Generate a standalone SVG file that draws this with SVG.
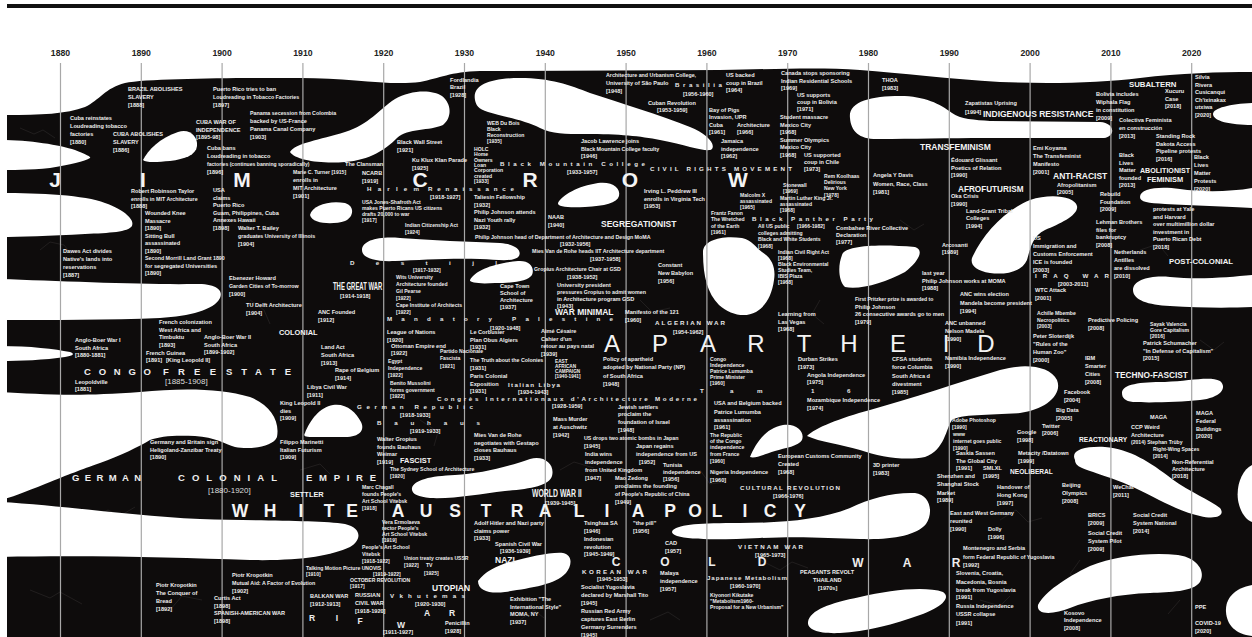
<svg xmlns="http://www.w3.org/2000/svg" width="1252" height="637" viewBox="0 0 1252 637">
<style>
text{font-family:"Liberation Sans",Arial,sans-serif}
.t{font-size:5.6px;font-weight:bold;fill:#eeeeee}
.ts{font-size:5.1px}
.n{font-size:5.3px}
.m{font-size:8.5px;font-weight:bold;fill:#f4f4f4}
.sp{font-size:6.2px;font-weight:bold;fill:#e8e8e8}
.yr{font-size:8.7px;font-weight:bold;fill:#222;text-anchor:middle}
.bg{font-size:21px;font-weight:bold;fill:#f4f4f4;text-anchor:middle}
.ap{font-size:24px;font-weight:normal;fill:#f4f4f4;text-anchor:middle}
.wa{font-size:17.5px;font-weight:bold;fill:#f4f4f4;text-anchor:middle}
.cw{font-size:12px;font-weight:bold;fill:#eeeeee;text-anchor:middle}
.rf{font-size:8.5px;font-weight:bold;fill:#eeeeee;text-anchor:middle}
.md{font-size:9.5px;font-weight:bold;fill:#eeeeee}
.dt{font-size:8px;fill:#dddddd}
.vl{stroke:#a8a8a8;stroke-width:1.2}
.hole{fill:#ffffff}
.crack{fill:none;stroke:#343030;stroke-width:0.5}
</style>
<rect width="1252" height="637" fill="#ffffff"/>
<rect x="7" y="4" width="1245" height="4" fill="#111"/>
<g id="land">
<path fill="#0e0c0c" d="M7,115 C40,115 67,114 85,107 C100,100 105,88 125,83 C150,78 250,78 300,78 C350,78 390,86 420,82 C440,78 450,72 480,71 L720,70 C780,69 820,67 860,70 C900,73 950,79 1000,82 C1050,84 1100,83 1140,78 C1180,73 1220,72 1252,72 L1252,637 L7,637 Z"/>
</g>
<g id="cracks">
<path class="crack" d="M20,128 l14,6 l9,-4 l12,8 M40,250 l10,-8 l14,3 l8,10 M90,520 l18,-10 l12,6 l15,-9 M30,590 l20,8 l10,-6 l22,12 M170,610 l12,-14 l20,4 M250,300 l14,10 l6,14 M300,470 l20,-6 l10,10 M420,420 l18,12 l-4,14 M560,470 l14,-8 l20,6 M640,300 l12,12 l18,-4 M700,470 l10,14 l16,-2 M760,560 l20,10 l12,-8 l16,6 M880,440 l10,-14 l18,2 M900,220 l14,10 l10,-6 M1000,520 l16,-10 l12,12 l14,-4 M1080,560 l-10,14 l14,10 M1140,250 l18,-6 l10,12 M1200,340 l14,10 l10,-8 M1180,600 l-12,14 M980,600 l20,6 l10,-10 M650,620 l18,-8 l12,8 M820,300 l-8,14 l12,10 M520,620 l14,-10 l10,8 M330,540 l16,8 l10,-6"/>
</g>
<g id="holes" class="hole">
<path d="M0,140 C30,140 60,145 75,150 C85,154 92,157 90,158 C85,161 70,165 50,168 C30,170 10,170 0,170 Z"/>
<path d="M0,193 C40,193 85,195 105,203 C125,210 135,220 132,226 C128,232 110,233 85,234 C50,236 20,237 0,237 Z"/>
<path d="M143,160 C148,150 160,138 178,132 C190,128 198,137 197,146 C196,155 185,159 170,161 C158,162 146,163 143,160 Z"/>
<path d="M290,152 C295,143 320,140 345,132 C370,124 378,110 395,99 C410,90 432,89 442,96 C452,104 452,118 443,125 C430,131 408,128 397,138 C385,150 370,160 345,162 C320,164 295,160 290,152 Z"/>
<path d="M475,100 C472,85 490,78 520,78 C550,78 570,85 590,93 C620,103 660,115 690,127 C705,133 716,143 712,149 C708,153 690,146 660,140 C640,136 620,134 585,134 C565,134 552,134 540,128 C525,120 500,116 488,112 C478,109 476,105 475,100 Z"/>
<path d="M558,203 C562,195 578,186 598,183 C612,181 621,188 619,196 C617,203 605,206 585,207 C570,208 557,207 558,203 Z"/>
<path d="M310,215 C312,205 330,200 345,203 C355,206 354,217 345,221 C333,225 312,224 310,215 Z"/>
<path d="M362,250 C362,240 380,236 400,238 C430,240 470,242 500,243 C515,244 522,250 519,256 C515,262 500,260 480,259 C450,258 420,260 395,261 C375,262 362,258 362,250 Z"/>
<path d="M470,280 C475,270 495,263 518,261 C530,260 535,268 532,275 C528,281 515,283 495,283 C480,284 469,283 470,280 Z"/>
<path d="M703,252 C703,240 722,235 742,238 C752,240 756,248 762,252 C772,258 776,268 774,280 C772,295 766,306 756,312 C745,318 730,315 719,305 C707,293 703,275 703,252 Z"/>
<path d="M850,118 C848,102 870,96 900,96 C925,96 940,104 952,113 C960,119 975,120 990,121 L1100,122 C1115,123 1116,136 1104,138 L985,138 C950,138 910,139 880,139 C860,140 851,132 850,118 Z"/>
<path d="M1252,103 C1230,104 1213,108 1213,114 C1213,121 1230,125 1252,125 Z"/>
<path d="M1140,197 C1140,188 1160,186 1180,189 C1200,192 1230,192 1252,188 L1252,208 C1230,207 1190,205 1165,204 C1148,203 1140,202 1140,197 Z"/>
<path d="M972,258 C982,235 1005,210 1030,200 C1050,193 1075,196 1077,206 C1079,215 1060,224 1045,230 C1032,236 1030,250 1027,260 C1022,272 1005,275 990,273 C976,271 970,265 972,258 Z"/>
<path d="M842,255 C845,245 880,244 915,247 C925,250 918,262 905,272 C885,283 860,290 845,287 C838,280 838,265 842,255 Z"/>
<path d="M750,457 C755,445 765,428 783,425 C797,423 805,432 802,440 C799,446 785,448 775,451 C765,454 755,459 750,457 Z"/>
<path d="M807,436 C815,428 840,418 870,410 C910,399 960,382 1000,370 C1025,363 1050,366 1057,380 C1063,395 1045,410 1020,413 C990,415 960,414 952,420 C946,428 945,450 925,457 C905,461 880,457 860,450 C840,444 820,442 807,436 Z"/>
<path d="M412,488 C414,480 430,476 455,475 C480,474 510,466 530,459 C545,455 555,465 552,476 C549,486 530,489 505,491 C480,494 455,499 430,498 C418,497 411,494 412,488 Z"/>
<path d="M478,581 C485,572 495,566 510,562 C530,557 550,552 563,553 C573,555 572,566 566,573 C555,585 530,588 505,592 C490,594 478,591 478,581 Z"/>
<path d="M673,530 C680,524 700,523 740,523 C780,523 820,520 850,508 C870,498 895,492 915,493 C930,495 934,512 926,524 C916,536 890,540 860,539 C830,538 800,536 760,538 C720,540 690,540 677,536 C672,534 671,532 673,530 Z"/>
<path d="M808,622 C810,610 830,603 860,597 C890,590 925,586 943,592 C952,598 940,608 920,615 C895,624 865,632 840,633 C820,634 807,630 808,622 Z"/>
<path d="M1075,460 C1070,450 1085,446 1105,447 C1130,449 1150,462 1172,479 C1190,492 1210,500 1220,508 C1226,516 1215,520 1200,516 C1180,512 1160,500 1135,488 C1115,478 1090,472 1080,467 C1076,465 1075,462 1075,460 Z"/>
<path d="M1252,465 C1242,470 1236,485 1238,500 C1240,512 1246,520 1252,522 Z"/>
<path d="M1038,605 C1045,592 1065,578 1090,566 C1115,556 1150,552 1178,555 C1198,558 1206,572 1200,582 C1193,592 1170,592 1150,593 C1120,594 1090,600 1070,608 C1055,614 1036,616 1038,605 Z"/>
<path d="M1252,585 C1235,588 1225,598 1226,612 C1227,625 1235,634 1252,636 Z"/>
<path d="M1133,290 C1133,280 1150,275 1170,277 C1200,280 1230,277 1252,275 L1252,307 C1230,308 1200,308 1170,306 C1148,305 1133,300 1133,290 Z"/>
<path d="M1122,393 C1122,384 1140,382 1165,382 C1190,381 1210,376 1220,381 C1228,388 1220,398 1200,400 C1180,402 1150,403 1133,402 C1125,401 1122,398 1122,393 Z"/>
<path d="M0,392 C40,394 75,397 140,392 C180,388 220,388 250,397 C270,405 280,420 277,437 C273,447 250,450 235,447 C225,444 215,437 195,436 C175,435 160,436 150,440 C140,446 120,456 100,463 C80,470 70,474 45,484 C25,492 10,498 0,500 Z"/>
<path d="M0,279 C60,281 150,285 195,284 C215,283 224,290 220,298 C214,310 190,316 160,318 C110,320 50,320 0,320 Z"/>
<path d="M0,346 C30,346 55,349 70,352 C76,354 72,356 65,357 C45,360 20,361 0,361 Z"/>
<path d="M305,433 C310,420 320,407 333,405 C346,403 356,412 361,422 C365,430 360,437 345,437 L312,437 C305,437 303,436 305,433 Z"/>
<path d="M0,502 C60,505 130,516 200,519 C260,521 320,520 345,524 C362,528 362,540 350,547 C330,556 300,561 250,560 C180,558 100,555 0,557 Z"/>
</g>
<g id="timeline">
<g class="vl">
<line x1="60.5" y1="63" x2="60.5" y2="637"/><line x1="141.3" y1="63" x2="141.3" y2="637"/><line x1="222.1" y1="63" x2="222.1" y2="637"/><line x1="302.9" y1="63" x2="302.9" y2="637"/><line x1="383.7" y1="63" x2="383.7" y2="637"/><line x1="464.5" y1="63" x2="464.5" y2="637"/><line x1="545.3" y1="63" x2="545.3" y2="637"/><line x1="626.1" y1="63" x2="626.1" y2="637"/><line x1="706.9" y1="63" x2="706.9" y2="637"/><line x1="787.7" y1="63" x2="787.7" y2="637"/><line x1="868.5" y1="63" x2="868.5" y2="637"/><line x1="949.3" y1="63" x2="949.3" y2="637"/><line x1="1030.1" y1="63" x2="1030.1" y2="637"/><line x1="1110.9" y1="63" x2="1110.9" y2="637"/><line x1="1191.7" y1="63" x2="1191.7" y2="637"/>
</g>
<text class="yr" x="60.5" y="56">1880</text><text class="yr" x="141.3" y="56">1890</text><text class="yr" x="222.1" y="56">1900</text><text class="yr" x="302.9" y="56">1910</text><text class="yr" x="383.7" y="56">1920</text><text class="yr" x="464.5" y="56">1930</text><text class="yr" x="545.3" y="56">1940</text><text class="yr" x="626.1" y="56">1950</text><text class="yr" x="706.9" y="56">1960</text><text class="yr" x="787.7" y="56">1970</text><text class="yr" x="868.5" y="56">1980</text><text class="yr" x="949.3" y="56">1990</text><text class="yr" x="1030.1" y="56">2000</text><text class="yr" x="1110.9" y="56">2010</text><text class="yr" x="1191.7" y="56">2020</text>
</g>
<g id="big-labels">
<text class="bg" x="55" y="187">J</text><text class="bg" x="143" y="187">I</text><text class="bg" x="242" y="187">M</text><text class="bg" x="420" y="187">C</text><text class="bg" x="530" y="187">R</text><text class="bg" x="630" y="187">O</text><text class="bg" x="738" y="187">W</text>
<text class="ap" x="612" y="352">A</text><text class="ap" x="660" y="352">P</text><text class="ap" x="708" y="352">A</text><text class="ap" x="756" y="352">R</text><text class="ap" x="804" y="352">T</text><text class="ap" x="849" y="352">H</text><text class="ap" x="898" y="352">E</text><text class="ap" x="946" y="352">I</text><text class="ap" x="986" y="352">D</text>
<text class="wa" x="240" y="517">W</text><text class="wa" x="270" y="517">H</text><text class="wa" x="301" y="517">I</text><text class="wa" x="329" y="517">T</text><text class="wa" x="352" y="517">E</text><text class="wa" x="398" y="517">A</text><text class="wa" x="426" y="517">U</text><text class="wa" x="455" y="517">S</text><text class="wa" x="486" y="517">T</text><text class="wa" x="517" y="517">R</text><text class="wa" x="545" y="517">A</text><text class="wa" x="579" y="517">L</text><text class="wa" x="607" y="517">I</text><text class="wa" x="638" y="517">A</text><text class="wa" x="670" y="517">P</text><text class="wa" x="695" y="517">O</text><text class="wa" x="717" y="517">L</text><text class="wa" x="745" y="517">I</text><text class="wa" x="770" y="517">C</text><text class="wa" x="800" y="517">Y</text>
<text class="cw" x="616" y="566">C</text><text class="cw" x="665" y="566">O</text><text class="cw" x="712" y="566">L</text><text class="cw" x="762" y="566">D</text><text class="cw" x="858" y="567">W</text><text class="cw" x="907" y="567">A</text><text class="cw" x="956" y="567">R</text>
<text class="rf" x="312" y="621">R</text><text class="rf" x="337" y="621">I</text><text class="rf" x="360" y="624">F</text><text class="rf" x="401" y="628">W</text><text class="rf" x="427" y="616">A</text><text class="rf" x="452" y="616">R</text>
<text class="md" x="72" y="481" textLength="69" lengthAdjust="spacing">GERMAN</text><text class="md" x="178" y="481" textLength="99" lengthAdjust="spacing">COLONIAL</text><text class="md" x="306" y="481" textLength="70" lengthAdjust="spacing">EMPIRE</text>
<text class="dt" x="208" y="493">[1880-1920]</text>
<text class="md" x="84" y="375" textLength="67" lengthAdjust="spacing">CONGO</text><text class="md" x="163" y="375" textLength="53" lengthAdjust="spacing">FREE</text><text class="md" x="226" y="375" textLength="65" lengthAdjust="spacing">STATE</text>
<text class="dt" x="165" y="384">[1885-1908]</text>
<text class="sp" x="700" y="393">T</text><text class="sp" x="730" y="393">a</text><text class="sp" x="757" y="393">m</text><text class="sp" x="811" y="393">1</text><text class="sp" x="847" y="393">6</text>
</g>
<g id="spaced-labels" class="sp">
<text x="500" y="166" textLength="145" lengthAdjust="spacing">Black Mountain College</text>
<text x="650" y="171" textLength="142" lengthAdjust="spacing">CIVIL RIGHTS MOVEMENT</text>
<text x="367" y="191" textLength="52" lengthAdjust="spacing">Harlem</text>
<text x="428" y="191" textLength="86" lengthAdjust="spacing">Renaissance</text>
<text x="752" y="221" textLength="121" lengthAdjust="spacing">Black Panther Party</text>
<text x="675" y="87" textLength="47" lengthAdjust="spacing">Brasilia</text>
<text x="350" y="265" textLength="147" lengthAdjust="spacing">Destijl</text>
<text x="387" y="321" textLength="226" lengthAdjust="spacing">Mandatory Palestine</text>
<text x="357" y="409" textLength="116" lengthAdjust="spacing">German Republic</text>
<text x="377" y="425" textLength="103" lengthAdjust="spacing">Bauhaus</text>
<text x="437" y="401" textLength="260" lengthAdjust="spacing">Congrès Internationaux d'Architecture Moderne</text>
<text x="508" y="387" textLength="52" lengthAdjust="spacing">Italian Libya</text>
<text x="655" y="325" textLength="70" lengthAdjust="spacing">ALGERIAN WAR</text>
<text x="740" y="490" textLength="100" lengthAdjust="spacing">CULTURAL REVOLUTION</text>
<text x="582" y="574" textLength="65" lengthAdjust="spacing">KOREAN WAR</text>
<text x="738" y="549" textLength="65" lengthAdjust="spacing">VIETNAM WAR</text>
<text x="707" y="580" textLength="80" lengthAdjust="spacing">Japanese Metabolism</text>
<text x="390" y="598" textLength="75" lengthAdjust="spacing">Vkhutemas</text>
<text x="1035" y="278" textLength="74" lengthAdjust="spacing">IRAQ WAR</text>
</g>
<g id="movement-labels" class="m">
<text x="601" y="227">SEGREGATIONIST</text>
<text x="555" y="315">WAR MINIMAL</text>
<text x="279" y="335" style="font-size:7.4px">COLONIAL</text>
<text x="290" y="497" style="font-size:7.4px">SETTLER</text>
<text x="400" y="463" style="font-size:7.4px">FASCIST</text>
<text x="432" y="591">UTOPIAN</text>
<text x="495" y="563">NAZI</text>
<text transform="translate(333,290) scale(0.565,1)" style="font-size:10.5px">THE GREAT WAR</text>
<text transform="translate(532,497) scale(0.69,1)" style="font-size:10px">WORLD WAR II</text>
<text x="920" y="150">TRANSFEMINISM</text>
<text x="958" y="192" style="font-size:8.2px">AFROFUTURISM</text>
<text x="1053" y="179">ANTI-RACIST</text>
<text x="1140" y="173" style="font-size:7.1px">ABOLITIONIST</text>
<text x="1147" y="182" style="font-size:7.4px">FEMINISM</text>
<text x="1129" y="87" style="font-size:7.8px">SUBALTERN</text>
<text x="983" y="117">INDIGENOUS RESISTANCE</text>
<text x="1169" y="264" style="font-size:7.8px">POST-COLONIAL</text>
<text x="1115" y="378" style="font-size:8.3px">TECHNO-FASCIST</text>
<text x="1079" y="442" style="font-size:6.6px">REACTIONARY</text>
<text x="1010" y="474" style="font-size:6.6px">NEOLIBERAL</text>
</g>
<g id="events" class="t">
<text><tspan x="128" y="91">BRAZIL ABOLISHES</tspan><tspan x="128" y="99">SLAVERY</tspan><tspan x="128" y="107">[1888]</tspan></text>
<text><tspan x="213" y="91">Puerto Rico tries to ban</tspan><tspan x="213" y="99" class="n">Loudreading in Tobacco Factories</tspan><tspan x="213" y="107">[1897]</tspan></text>
<text><tspan x="70" y="120">Cuba reinstates</tspan><tspan x="70" y="128">Loudreading tobacco</tspan><tspan x="70" y="136">factories</tspan><tspan x="70" y="144">[1880]</tspan></text>
<text><tspan x="113" y="136">CUBA ABOLISHES</tspan><tspan x="113" y="144">SLAVERY</tspan><tspan x="113" y="152">[1886]</tspan></text>
<text><tspan x="196" y="124">CUBA WAR OF</tspan><tspan x="196" y="131.5">INDEPENDENCE</tspan><tspan x="196" y="139">[1895-98]</tspan></text>
<text><tspan x="250" y="115" class="n">Panama secession from Colombia</tspan><tspan x="250" y="123">backed by US-France</tspan><tspan x="250" y="131">Panama Canal Company</tspan><tspan x="250" y="139">[1903]</tspan></text>
<text><tspan x="207" y="150">Cuba bans</tspan><tspan x="207" y="158">Loudreading in tobacco</tspan><tspan x="207" y="166" class="ts">factories (continues banning sporadically)</tspan><tspan x="207" y="174">[1896]</tspan></text>
<text x="345" y="166">The Clansman</text>
<text><tspan x="293" y="174" class="ts">Marie C. Turner [1915]</tspan><tspan x="293" y="182">enrolls in</tspan><tspan x="293" y="190">MIT Architecture</tspan><tspan x="293" y="198">[1901]</tspan></text>
<text><tspan x="362" y="175">NCARB</tspan><tspan x="362" y="183">[1919]</tspan></text>
<text><tspan x="131" y="193">Robert Robinson Taylor</tspan><tspan x="131" y="200.5" class="n">enrolls in MIT Architecture</tspan><tspan x="131" y="208">[1888]</tspan></text>
<text><tspan x="145" y="215">Wounded Knee</tspan><tspan x="145" y="222.5">Massacre</tspan><tspan x="145" y="230">[1890]</tspan><tspan x="145" y="237.5">Sitting Bull</tspan><tspan x="145" y="245">assassinated</tspan><tspan x="145" y="252.5">[1890]</tspan></text>
<text><tspan x="145" y="260" class="n">Second Morrill Land Grant 1890</tspan><tspan x="145" y="267.5">for segregated Universities</tspan><tspan x="145" y="275">[1890]</tspan></text>
<text><tspan x="213" y="192">USA</tspan><tspan x="213" y="199.5">claims</tspan><tspan x="213" y="207">Puerto Rico</tspan><tspan x="213" y="214.5">Guam, Philippines, Cuba</tspan><tspan x="213" y="222">Annexes Hawaii</tspan><tspan x="213" y="229.5">[1898]</tspan></text>
<text><tspan x="238" y="230">Walter T. Bailey</tspan><tspan x="238" y="238" class="n">graduates University of Illinois</tspan><tspan x="238" y="246">[1904]</tspan></text>
<text><tspan x="63" y="253">Dawes Act divides</tspan><tspan x="63" y="261">Native's lands into</tspan><tspan x="63" y="269">reservations</tspan><tspan x="63" y="277">[1887]</tspan></text>
<text class="ts"><tspan x="362" y="204">USA Jones-Shafroth Act</tspan><tspan x="362" y="210">makes Puerto Ricans US citizens</tspan><tspan x="362" y="216">drafts 20,000 to war</tspan><tspan x="362" y="222">[1917]</tspan></text>
<text class="ts"><tspan x="405" y="227">Indian Citizenship Act</tspan><tspan x="405" y="233.5">[1924]</tspan></text>
<text><tspan x="397" y="144">Black Wall Street</tspan><tspan x="397" y="152">[1921]</tspan></text>
<text><tspan x="412" y="162">Ku Klux Klan Parade</tspan><tspan x="412" y="170">[1925]</tspan></text>
<text><tspan x="450" y="82">Fordlandia</tspan><tspan x="450" y="89">Brazil</tspan><tspan x="450" y="97">[1928]</tspan></text>
<text class="ts"><tspan x="487" y="125">WEB Du Bois</tspan><tspan x="487" y="131">Black</tspan><tspan x="487" y="137">Reconstruction</tspan><tspan x="487" y="143">[1935]</tspan></text>
<text class="ts"><tspan x="474" y="151">HOLC</tspan><tspan x="474" y="156.3">Home</tspan><tspan x="474" y="161.6">Owners</tspan><tspan x="474" y="166.9">Loan</tspan><tspan x="474" y="172.2">Corporation</tspan><tspan x="474" y="177.5">created</tspan><tspan x="474" y="182.8">[1933]</tspan></text>
<text><tspan x="606" y="77" class="n">Architecture and Urbanism College,</tspan><tspan x="606" y="85">University of São Paulo</tspan><tspan x="606" y="93">[1948]</tspan></text>
<text x="683" y="96">[1956-1960]</text>
<text><tspan x="726" y="77">US backed</tspan><tspan x="726" y="85">coup in Brazil</tspan><tspan x="726" y="92">[1964]</tspan></text>
<text><tspan x="648" y="105">Cuban Revolution</tspan><tspan x="657" y="112">[1953-1959]</tspan></text>
<text><tspan x="781" y="75">Canada stops sponsoring</tspan><tspan x="781" y="82.5">Indian Residential Schools</tspan><tspan x="781" y="90">[1969]</tspan></text>
<text><tspan x="797" y="97">US supports</tspan><tspan x="797" y="104">coup in Bolivia</tspan><tspan x="797" y="111">[1971]</tspan></text>
<text><tspan x="780" y="119">Student massacre</tspan><tspan x="780" y="126.5">Mexico City</tspan><tspan x="780" y="134">[1968]</tspan><tspan x="780" y="141.5">Summer Olympics</tspan><tspan x="780" y="149">Mexico City</tspan><tspan x="780" y="156.5">[1968]</tspan></text>
<text><tspan x="804" y="156.5">US supported</tspan><tspan x="804" y="163.5">coup in Chile</tspan><tspan x="804" y="170.5">[1973]</tspan></text>
<text><tspan x="709" y="112">Bay of Pigs</tspan><tspan x="709" y="119">Invasion, UPR</tspan><tspan x="709" y="127">Cuba</tspan><tspan x="709" y="134">[1961]</tspan></text>
<text><tspan x="737" y="127">Architecture</tspan><tspan x="737" y="134">[1966]</tspan></text>
<text><tspan x="721" y="143">Jamaica</tspan><tspan x="721" y="150.5">independence</tspan><tspan x="721" y="158">[1962]</tspan></text>
<text><tspan x="581" y="143">Jacob Lawrence joins</tspan><tspan x="581" y="150.5" class="n">Black Mountain College faculty</tspan><tspan x="581" y="158">[1946]</tspan></text>
<text x="567" y="174">[1933-1957]</text>
<text x="430" y="198.5">[1918-1927]</text>
<text><tspan x="474" y="199">Taliesin Fellowship</tspan><tspan x="474" y="206.5">[1932]</tspan><tspan x="474" y="214">Philip Johnson attends</tspan><tspan x="474" y="221.5">Nazi Youth rally</tspan><tspan x="474" y="229">[1932]</tspan></text>
<text><tspan x="644" y="193">Irving L. Peddrew III</tspan><tspan x="644" y="200.5">enrolls in Virginia Tech</tspan><tspan x="644" y="208">[1953]</tspan></text>
<text class="ts"><tspan x="740" y="197">Malcolm X</tspan><tspan x="740" y="203">assassinated</tspan><tspan x="740" y="209">[1965]</tspan></text>
<text class="ts"><tspan x="783" y="187">Stonewall</tspan><tspan x="783" y="193">[1969]</tspan></text>
<text class="ts"><tspan x="780" y="200">Martin Luther King Jr.</tspan><tspan x="780" y="206">assassinated</tspan><tspan x="780" y="212">[1968]</tspan></text>
<text class="ts"><tspan x="711" y="214.5">Frantz Fanon</tspan><tspan x="711" y="221">The Wretched</tspan><tspan x="711" y="227.5">of the Earth</tspan><tspan x="711" y="234">[1961]</tspan></text>
<text class="ts" x="797" y="228">[1966-1982]</text>
<text class="ts"><tspan x="758" y="228">All US public</tspan><tspan x="758" y="234.5">colleges admitting</tspan><tspan x="758" y="241">Black and White Students</tspan><tspan x="758" y="247.5">[1968]</tspan></text>
<text><tspan x="548" y="219">NAAB</tspan><tspan x="548" y="227">[1940]</tspan></text>
<text><tspan x="475" y="238.5" class="n">Philip Johnson head of Department of Architecture and Design MoMA</tspan><tspan x="560" y="246">[1932-1956]</tspan></text>
<text><tspan x="532" y="253" class="n">Mies Van de Rohe heads IIT Architecture department</tspan><tspan x="590" y="261">[1937-1958]</tspan></text>
<text class="ts"><tspan x="778" y="254">Indian Civil Right Act</tspan><tspan x="778" y="260">[1968]</tspan><tspan x="778" y="266">Black Environmental</tspan><tspan x="778" y="272">Studies Team,</tspan><tspan x="778" y="278">IBIS Plaza</tspan><tspan x="778" y="284">[1968]</tspan></text>
<text><tspan x="882" y="82">THOA</tspan><tspan x="882" y="90">[1983]</tspan></text>
<text><tspan x="965" y="105">Zapatistas Uprising</tspan><tspan x="965" y="114">[1994]</tspan></text>
<text><tspan x="1195" y="79">Silvia</tspan><tspan x="1195" y="86.5">Rivera</tspan><tspan x="1195" y="94">Cusicanqui</tspan><tspan x="1195" y="101.5">Ch'ixinakax</tspan><tspan x="1195" y="109">utxiwa</tspan><tspan x="1195" y="116.5">[2020]</tspan></text>
<text><tspan x="1165" y="93">Xucuru</tspan><tspan x="1165" y="100.5">Case</tspan><tspan x="1165" y="108">[2018]</tspan></text>
<text><tspan x="1096" y="96">Bolivia includes</tspan><tspan x="1096" y="104">Wiphala Flag</tspan><tspan x="1096" y="112">in constitution</tspan><tspan x="1096" y="120">[2009]</tspan></text>
<text><tspan x="1119" y="122">Colectiva Feminista</tspan><tspan x="1119" y="130">en construcción</tspan><tspan x="1119" y="138">[2013]</tspan></text>
<text><tspan x="1156" y="138">Standing Rock</tspan><tspan x="1156" y="145.5">Dakota Access</tspan><tspan x="1156" y="153">Pipeline protests</tspan><tspan x="1156" y="160.5">[2016]</tspan></text>
<text><tspan x="1194" y="159">Black</tspan><tspan x="1194" y="167">Lives</tspan><tspan x="1194" y="175">Matter</tspan><tspan x="1194" y="183">Protests</tspan><tspan x="1194" y="191">[2020]</tspan></text>
<text><tspan x="1119" y="157">Black</tspan><tspan x="1119" y="164.5">Lives</tspan><tspan x="1119" y="172">Matter</tspan><tspan x="1119" y="179.5">founded</tspan><tspan x="1119" y="187">[2013]</tspan></text>
<text><tspan x="951" y="162">Édouard Glissant</tspan><tspan x="951" y="169.5">Poetics of Relation</tspan><tspan x="951" y="177">[1990]</tspan></text>
<text><tspan x="1033" y="150">Emi Koyama</tspan><tspan x="1033" y="158">The Transfeminist</tspan><tspan x="1033" y="166">Manifesto</tspan><tspan x="1033" y="174">[2001]</tspan></text>
<text><tspan x="873" y="177">Angela Y Davis</tspan><tspan x="873" y="185.5">Women, Race, Class</tspan><tspan x="873" y="194">[1981]</tspan></text>
<text><tspan x="951" y="198">Oka Crisis</tspan><tspan x="951" y="205.5">[1990]</tspan></text>
<text><tspan x="966" y="212.5">Land-Grant Tribal</tspan><tspan x="966" y="220">Colleges</tspan><tspan x="966" y="227.5">[1994]</tspan></text>
<text><tspan x="1057" y="187">Afropolitanism</tspan><tspan x="1057" y="194">[2005]</tspan></text>
<text><tspan x="1100" y="196">Rebuild</tspan><tspan x="1100" y="203.5">Foundation</tspan><tspan x="1100" y="211">[2009]</tspan></text>
<text><tspan x="1096" y="224">Lehman Brothers</tspan><tspan x="1096" y="231.5">files for</tspan><tspan x="1096" y="239">bankruptcy</tspan><tspan x="1096" y="246.5">[2008]</tspan></text>
<text><tspan x="1153" y="211">protests at Yale</tspan><tspan x="1153" y="218.5">and Harvard</tspan><tspan x="1153" y="226">over multimillion dollar</tspan><tspan x="1153" y="233.5">investment in</tspan><tspan x="1153" y="241">Puerto Rican Debt</tspan><tspan x="1153" y="248.5">[2018]</tspan></text>
<text><tspan x="1033" y="240">US</tspan><tspan x="1033" y="248">Immigration and</tspan><tspan x="1033" y="256">Customs Enforcement</tspan><tspan x="1033" y="264">ICE is founded</tspan><tspan x="1033" y="271.5">[2003]</tspan></text>
<text><tspan x="1114" y="254">Netherlands</tspan><tspan x="1114" y="262">Antilles</tspan><tspan x="1114" y="270">are dissolved</tspan><tspan x="1114" y="278">[2010]</tspan></text>
<text><tspan x="942" y="246.5">Arcosanti</tspan><tspan x="942" y="254">[1989]</tspan></text>
<text><tspan x="836" y="229.5">Combahee River Collective</tspan><tspan x="836" y="236.5">Declaration</tspan><tspan x="836" y="243.5">[1977]</tspan></text>
<text class="ts"><tspan x="824" y="178">Rem Koolhaas</tspan><tspan x="824" y="184">Delirious</tspan><tspan x="824" y="190">New York</tspan><tspan x="824" y="196.5">[1978]</tspan></text>
<text><tspan x="229" y="280">Ebenezer Howard</tspan><tspan x="229" y="288" class="n">Garden Cities of To-morrow</tspan><tspan x="229" y="296">[1900]</tspan></text>
<text><tspan x="246" y="307">TU Delft Architecture</tspan><tspan x="246" y="315">[1904]</tspan></text>
<text x="340" y="298">[1914-1918]</text>
<text><tspan x="318" y="314">ANC Founded</tspan><tspan x="318" y="321.5">[1912]</tspan></text>
<text><tspan x="159" y="324">French colonization</tspan><tspan x="159" y="331.5">West Africa and</tspan><tspan x="159" y="339">Timbuktu</tspan><tspan x="159" y="346.5">[1893]</tspan></text>
<text><tspan x="75" y="342">Anglo-Boer War I</tspan><tspan x="75" y="349.5">South Africa</tspan><tspan x="75" y="357">[1880-1881]</tspan></text>
<text><tspan x="204" y="339">Anglo-Boer War II</tspan><tspan x="204" y="346.5">South Africa</tspan><tspan x="204" y="354">[1899-1902]</tspan></text>
<text><tspan x="146" y="354.5">French Guinea</tspan><tspan x="146" y="362">[1891]</tspan><tspan x="166" y="362">[King Leopold II]</tspan></text>
<text><tspan x="321" y="349">Land Act</tspan><tspan x="321" y="357">South Africa</tspan><tspan x="321" y="365">[1913]</tspan></text>
<text><tspan x="335" y="372">Rape of Belgium</tspan><tspan x="335" y="380">[1914]</tspan></text>
<text><tspan x="307" y="389">Libya Civil War</tspan><tspan x="307" y="397">[1911]</tspan></text>
<text><tspan x="280" y="405">King Leopold II</tspan><tspan x="280" y="412.5">dies</tspan><tspan x="280" y="420">[1909]</tspan></text>
<text><tspan x="75" y="384">Leopoldville</tspan><tspan x="75" y="391">[1881]</tspan></text>
<text><tspan x="150" y="444">Germany and Britain sign</tspan><tspan x="150" y="451.5">Heligoland-Zanzibar Treaty</tspan><tspan x="150" y="459">[1890]</tspan></text>
<text><tspan x="280" y="444">Filippo Marinetti</tspan><tspan x="280" y="451.5">Italian Futurism</tspan><tspan x="280" y="459">[1909]</tspan></text>
<text class="ts"><tspan x="396" y="278.5">Wits University</tspan><tspan x="396" y="285.5">Architecture founded</tspan><tspan x="396" y="292.5">Gil Pearse</tspan><tspan x="396" y="299.5">[1922]</tspan><tspan x="396" y="306.5">Cape Institute of Architects</tspan><tspan x="396" y="313.5">[1922]</tspan></text>
<text x="490" y="330">[1920-1948]</text>
<text class="ts" x="413" y="271.5">[1917-1932]</text>
<text><tspan x="387" y="334">League of Nations</tspan><tspan x="387" y="341.5">[1920]</tspan></text>
<text><tspan x="391" y="348">Ottoman Empire end</tspan><tspan x="391" y="355">[1922]</tspan></text>
<text class="ts"><tspan x="388" y="363">Egypt</tspan><tspan x="388" y="370">Independence</tspan><tspan x="388" y="377">[1922]</tspan></text>
<text class="ts"><tspan x="390" y="384.5">Benito Mussolini</tspan><tspan x="390" y="391.5">forms government</tspan><tspan x="390" y="398">[1922]</tspan></text>
<text class="ts"><tspan x="440" y="353">Partido Nacionale</tspan><tspan x="440" y="360">Fascista</tspan><tspan x="440" y="368">[1921]</tspan></text>
<text x="400" y="417">[1918-1933]</text>
<text x="410" y="433">[1919-1933]</text>
<text><tspan x="377" y="441">Walter Gropius</tspan><tspan x="377" y="448.5">founds Bauhaus</tspan><tspan x="377" y="456">Weimar</tspan><tspan x="377" y="463.5">[1919]</tspan></text>
<text class="ts"><tspan x="390" y="471">The Sydney School of Architecture</tspan><tspan x="390" y="477.5">[1920]</tspan></text>
<text class="ts"><tspan x="362" y="489">Marc Chagall</tspan><tspan x="362" y="496">founds People's</tspan><tspan x="362" y="503">Art School Vitebsk</tspan><tspan x="362" y="510">[1918]</tspan></text>
<text class="ts"><tspan x="382" y="524">Vera Ermolaeva</tspan><tspan x="382" y="530">rector People's</tspan><tspan x="382" y="536">Art School Vitebsk</tspan><tspan x="382" y="542">[1919]</tspan></text>
<text class="ts"><tspan x="362" y="549">People's Art School</tspan><tspan x="362" y="556">Vitebsk</tspan><tspan x="362" y="562.5">[1918-1922]</tspan></text>
<text class="ts"><tspan x="404" y="560">Union treaty creates USSR</tspan><tspan x="404" y="567">[1922]</tspan><tspan x="426" y="567">TV</tspan><tspan x="424" y="575">[1925]</tspan></text>
<text class="ts"><tspan x="306" y="569.5">Talking Motion Picture UNOVIS</tspan><tspan x="306" y="575.5">[1910]</tspan><tspan x="373" y="575.5">[1919-1922]</tspan></text>
<text class="ts"><tspan x="350" y="582">OCTOBER REVOLUTION</tspan><tspan x="350" y="588">[1917]</tspan></text>
<text><tspan x="232" y="577">Piotr Kropotkin</tspan><tspan x="232" y="585" class="n">Mutual Aid: A Factor of Evolution</tspan><tspan x="232" y="592.5">[1902]</tspan></text>
<text><tspan x="156" y="587">Piotr Kropotkin</tspan><tspan x="156" y="595">The Conquer of</tspan><tspan x="156" y="603">Bread</tspan><tspan x="156" y="610.5">[1892]</tspan></text>
<text><tspan x="214" y="600">Curtis Act</tspan><tspan x="214" y="607.5">[1898]</tspan><tspan x="214" y="615">SPANISH-AMERICAN WAR</tspan><tspan x="214" y="622.5">[1898]</tspan></text>
<text><tspan x="310" y="598">BALKAN WAR</tspan><tspan x="310" y="606">[1912-1913]</tspan></text>
<text><tspan x="355" y="597">RUSSIAN</tspan><tspan x="355" y="605">CIVIL WAR</tspan><tspan x="355" y="612.5">[1918-1920]</tspan></text>
<text x="383" y="634">[1911-1927]</text>
<text><tspan x="445" y="625">Penicillin</tspan><tspan x="445" y="632.5">[1928]</tspan></text>
<text x="415" y="605.5">[1920-1930]</text>
<text><tspan x="500" y="288">Cape Town</tspan><tspan x="500" y="295">School of</tspan><tspan x="500" y="302">Architecture</tspan><tspan x="500" y="309">[1937]</tspan></text>
<text><tspan x="534" y="271" class="n">Gropius Architecture Chair at GSD</tspan><tspan x="567" y="279">[1938-1952]</tspan></text>
<text><tspan x="557" y="287">University president</tspan><tspan x="557" y="294" class="n">pressures Gropius to admit women</tspan><tspan x="557" y="301">in Architecture program GSD</tspan><tspan x="557" y="308">[1943]</tspan></text>
<text><tspan x="658" y="267">Constant</tspan><tspan x="658" y="275">New Babylon</tspan><tspan x="658" y="283">[1956]</tspan></text>
<text><tspan x="625" y="314">Manifesto of the 121</tspan><tspan x="625" y="322">[1960]</tspan></text>
<text x="673" y="334">[1954-1962]</text>
<text><tspan x="778" y="316">Learning from</tspan><tspan x="778" y="323.5">Las Vegas</tspan><tspan x="778" y="331">[1968]</tspan></text>
<text><tspan x="541" y="333">Aimé Césaire</tspan><tspan x="541" y="340.5">Cahier d'un</tspan><tspan x="541" y="348">retour au pays natal</tspan><tspan x="541" y="355.5">[1939]</tspan></text>
<text><tspan x="470" y="334">Le Corbusier</tspan><tspan x="470" y="341.5">Plan Obus Algiers</tspan><tspan x="470" y="349">[1931]</tspan></text>
<text><tspan x="470" y="362" class="n">The Truth about the Colonies</tspan><tspan x="470" y="369.5">[1931]</tspan></text>
<text style="font-size:4.7px"><tspan x="555" y="363">EAST</tspan><tspan x="555" y="368">AFRICAN</tspan><tspan x="555" y="373">CAMPAIGN</tspan><tspan x="555" y="378">[1940-1941]</tspan></text>
<text><tspan x="603" y="361">Policy of apartheid</tspan><tspan x="603" y="369">adopted by National Party (NP)</tspan><tspan x="603" y="377.5">of South Africa</tspan><tspan x="603" y="386">[1948]</tspan></text>
<text class="ts"><tspan x="710" y="361">Congo</tspan><tspan x="710" y="367">Independence</tspan><tspan x="710" y="373">Patrice Lumumba</tspan><tspan x="710" y="379">Prime Minister</tspan><tspan x="710" y="385">[1960]</tspan></text>
<text><tspan x="798" y="361">Durban Strikes</tspan><tspan x="798" y="369">[1973]</tspan></text>
<text><tspan x="807" y="376.5">Angola Independence</tspan><tspan x="807" y="384">[1975]</tspan></text>
<text x="552" y="408">[1928-1959]</text>
<text x="518" y="394">[1934-1943]</text>
<text><tspan x="470" y="378">Paris Colonial</tspan><tspan x="470" y="385.5">Exposition</tspan><tspan x="470" y="393">[1931]</tspan></text>
<text><tspan x="618" y="408.5">Jewish settlers</tspan><tspan x="618" y="416">proclaim the</tspan><tspan x="618" y="424">foundation of Israel</tspan><tspan x="618" y="432">[1948]</tspan></text>
<text><tspan x="553" y="421">Mass Murder</tspan><tspan x="553" y="429">at Auschwitz</tspan><tspan x="553" y="437">[1942]</tspan></text>
<text><tspan x="714" y="405">USA and Belgium backed</tspan><tspan x="714" y="413.5">Patrice Lumumba</tspan><tspan x="714" y="421.5">assassination</tspan><tspan x="714" y="429">[1961]</tspan></text>
<text><tspan x="807" y="402">Mozambique Independence</tspan><tspan x="807" y="410">[1974]</tspan></text>
<text><tspan x="474" y="437">Mies Van de Rohe</tspan><tspan x="474" y="444.5">negotiates with Gestapo</tspan><tspan x="474" y="452">closes Bauhaus</tspan><tspan x="474" y="459.5">[1933]</tspan></text>
<text><tspan x="584" y="440" class="n">US drops two atomic bombs in Japan</tspan><tspan x="584" y="447.5">[1945]</tspan></text>
<text><tspan x="636" y="448">Japan regains</tspan><tspan x="636" y="456">independence from US</tspan><tspan x="639" y="464">[1952]</tspan></text>
<text><tspan x="585" y="456">India wins</tspan><tspan x="585" y="464">independence</tspan><tspan x="585" y="472">from United Kingdom</tspan><tspan x="585" y="480">[1947]</tspan></text>
<text><tspan x="663" y="467">Tunisia</tspan><tspan x="663" y="474">independence</tspan><tspan x="663" y="481">[1956]</tspan></text>
<text><tspan x="615" y="480">Mao Zedong</tspan><tspan x="615" y="488">proclaims the founding</tspan><tspan x="615" y="496" class="n">of People's Republic of China</tspan><tspan x="615" y="504">[1949]</tspan></text>
<text class="ts"><tspan x="710" y="437">The Republic</tspan><tspan x="710" y="443">of the Congo</tspan><tspan x="710" y="449">independence</tspan><tspan x="710" y="455.5">from France</tspan><tspan x="710" y="462.5">[1960]</tspan></text>
<text><tspan x="710" y="474">Nigeria Independence</tspan><tspan x="710" y="482">[1960]</tspan></text>
<text><tspan x="778" y="458">European Customs Community</tspan><tspan x="778" y="466">Created</tspan><tspan x="778" y="474">[1968]</tspan></text>
<text x="773" y="498">[1966-1976]</text>
<text x="545" y="505">[1939-1945]</text>
<text><tspan x="474" y="525">Adolf Hitler and Nazi party</tspan><tspan x="474" y="532.5">claims power</tspan><tspan x="474" y="540">[1933]</tspan></text>
<text><tspan x="495" y="545.5">Spanish Civil War</tspan><tspan x="500" y="553">[1936-1939]</tspan></text>
<text><tspan x="584" y="525">Tsinghua SA</tspan><tspan x="584" y="532.5">[1946]</tspan><tspan x="584" y="540.5">Indonesian</tspan><tspan x="584" y="548.5">revolution</tspan><tspan x="584" y="556">[1945-1949]</tspan></text>
<text><tspan x="633" y="525">"the pill"</tspan><tspan x="633" y="532.5">[1956]</tspan></text>
<text><tspan x="665" y="545">CAD</tspan><tspan x="665" y="552.5">[1957]</tspan></text>
<text x="597" y="581">[1945-1953]</text>
<text><tspan x="660" y="575">Malaya</tspan><tspan x="660" y="583">independence</tspan><tspan x="660" y="591">[1957]</tspan></text>
<text><tspan x="581" y="589">Socialist Yugoslavia</tspan><tspan x="581" y="597">declared by Marshall Tito</tspan><tspan x="581" y="605">[1945]</tspan><tspan x="581" y="613">Russian Red Army</tspan><tspan x="581" y="621">captures East Berlin</tspan><tspan x="581" y="629">Germany Surrenders</tspan><tspan x="581" y="636.5">[1945]</tspan></text>
<text><tspan x="510" y="601">Exhibition "The</tspan><tspan x="510" y="608.5">International Style"</tspan><tspan x="510" y="616">MOMA, NY</tspan><tspan x="510" y="623.5">[1937]</tspan></text>
<text x="730" y="588">[1960-1970]</text>
<text class="ts"><tspan x="710" y="596.5">Kiyonori Kikutake</tspan><tspan x="710" y="602.5">"Metabolism1960-</tspan><tspan x="710" y="609">Proposal for a New Urbanism"</tspan></text>
<text x="755" y="557">[1965-1973]</text>
<text><tspan x="800" y="574">PEASANTS REVOLT</tspan><tspan x="813" y="582">THAILAND</tspan><tspan x="818" y="590">[1970s]</tspan></text>
<text><tspan x="873" y="467">3D printer</tspan><tspan x="873" y="475">[1983]</tspan></text>
<text><tspan x="956" y="455">Saskia Sassen</tspan><tspan x="956" y="462.5">The Global City</tspan><tspan x="956" y="470">[1991]</tspan></text>
<text><tspan x="983" y="470">SMLXL</tspan><tspan x="983" y="478">[1995]</tspan></text>
<text class="ts"><tspan x="952" y="422">Adobe Photoshop</tspan><tspan x="952" y="429">[1990]</tspan><tspan x="953" y="436">www</tspan><tspan x="953" y="442.5">internet goes public</tspan><tspan x="953" y="449.5">[1990]</tspan></text>
<text><tspan x="1018" y="455">Metacity /Datatown</tspan><tspan x="1018" y="463">[1999]</tspan></text>
<text><tspan x="937" y="478">Shenzhen and</tspan><tspan x="937" y="486">Shanghai Stock</tspan><tspan x="937" y="494.5">Market</tspan><tspan x="937" y="502">[1989]</tspan></text>
<text><tspan x="997" y="489">Handover of</tspan><tspan x="997" y="497">Hong Kong</tspan><tspan x="997" y="505">[1997]</tspan></text>
<text><tspan x="1062" y="487">Beijing</tspan><tspan x="1062" y="495">Olympics</tspan><tspan x="1062" y="503">[2008]</tspan></text>
<text><tspan x="1113" y="489">WeChat</tspan><tspan x="1113" y="497">[2011]</tspan></text>
<text><tspan x="950" y="515">East and West Germany</tspan><tspan x="950" y="523">reunited</tspan><tspan x="950" y="530.5">[1990]</tspan></text>
<text><tspan x="988" y="531">Dolly</tspan><tspan x="988" y="539">[1996]</tspan></text>
<text><tspan x="1088" y="517">BRICS</tspan><tspan x="1088" y="525">[2009]</tspan></text>
<text><tspan x="1133" y="517">Social Credit</tspan><tspan x="1133" y="525">System National</tspan><tspan x="1133" y="532.5">[2014]</tspan></text>
<text><tspan x="1088" y="535">Social Credit</tspan><tspan x="1088" y="543">System Pilot</tspan><tspan x="1088" y="550.5">[2009]</tspan></text>
<text><tspan x="963" y="550">Montenegro and Serbia</tspan><tspan x="963" y="558.5" class="n">form Federal Republic of Yugoslavia</tspan><tspan x="963" y="567">[1992]</tspan></text>
<text><tspan x="956" y="575">Slovenia, Croatia,</tspan><tspan x="956" y="583.5">Macedonia, Bosnia</tspan><tspan x="956" y="591.5">break from Yugoslavia</tspan><tspan x="956" y="599">[1991]</tspan><tspan x="956" y="608">Russia Independence</tspan><tspan x="956" y="616">USSR collapse</tspan><tspan x="956" y="624.5">[1991]</tspan></text>
<text><tspan x="1064" y="614.5">Kosovo</tspan><tspan x="1064" y="622">Independence</tspan><tspan x="1064" y="629.5">[2008]</tspan></text>
<text><tspan x="1195" y="609">PPE</tspan><tspan x="1195" y="625">COVID-19</tspan><tspan x="1195" y="633">[2020]</tspan></text>
<text class="ts"><tspan x="1131" y="444">(2014) Stephan Trüby</tspan><tspan x="1153" y="451">Right-Wing Spaces</tspan><tspan x="1153" y="457.5">[2014]</tspan></text>
<text><tspan x="1172" y="463.5">Non-Referential</tspan><tspan x="1172" y="470.5">Architecture</tspan><tspan x="1172" y="478">[2018]</tspan></text>
<text><tspan x="922" y="275">last year</tspan><tspan x="922" y="282.5">Philip Johnson works at MOMA</tspan><tspan x="922" y="290">[1988]</tspan></text>
<text><tspan x="855" y="301" class="ts">First Pritzker prize is awarded to</tspan><tspan x="855" y="308.5">Philip Johnson</tspan><tspan x="855" y="316">26 consecutive awards go to men</tspan><tspan x="855" y="323.5">[1979]</tspan></text>
<text><tspan x="960" y="296">ANC wins election</tspan><tspan x="960" y="304.5">Mandela become president</tspan><tspan x="960" y="313">[1994]</tspan></text>
<text><tspan x="945" y="325">ANC unbanned</tspan><tspan x="945" y="333">Nelson Madela</tspan><tspan x="945" y="341">[1990]</tspan></text>
<text><tspan x="945" y="360">Namibia Independence</tspan><tspan x="945" y="368">[1990]</tspan></text>
<text><tspan x="892" y="361">CFSA students</tspan><tspan x="892" y="369">force Columbia</tspan><tspan x="892" y="377.5">South Africa d</tspan><tspan x="892" y="386">divestment</tspan><tspan x="892" y="394">[1985]</tspan></text>
<text x="1058" y="286">[2003-2011]</text>
<text><tspan x="1035" y="292">WTC Attack</tspan><tspan x="1035" y="299.5">[2001]</tspan></text>
<text class="ts"><tspan x="1037" y="315">Achille Mbembe</tspan><tspan x="1037" y="321.5">Necropolitics</tspan><tspan x="1037" y="328">[2003]</tspan></text>
<text><tspan x="1033" y="338">Peter Sloterdijk</tspan><tspan x="1033" y="346">"Rules of the</tspan><tspan x="1033" y="354">Human Zoo"</tspan><tspan x="1033" y="362">[2000]</tspan></text>
<text><tspan x="1088" y="322">Predictive Policing</tspan><tspan x="1088" y="330">[2008]</tspan></text>
<text class="ts"><tspan x="1150" y="326">Sayak Valencia</tspan><tspan x="1150" y="332">Gore Capitalism</tspan><tspan x="1150" y="338">[2016]</tspan></text>
<text><tspan x="1143" y="345">Patrick Schumacher</tspan><tspan x="1143" y="352.5">"In Defense of Capitalism"</tspan><tspan x="1143" y="360">[2015]</tspan></text>
<text><tspan x="1085" y="360">IBM</tspan><tspan x="1085" y="368">Smarter</tspan><tspan x="1085" y="376">Cities</tspan><tspan x="1085" y="384">[2008]</tspan></text>
<text><tspan x="1064" y="394">Facebook</tspan><tspan x="1064" y="401.5">[2004]</tspan></text>
<text><tspan x="1056" y="412">Big Data</tspan><tspan x="1056" y="420">[2005]</tspan></text>
<text><tspan x="1042" y="427.5">Twitter</tspan><tspan x="1042" y="435">[2006]</tspan></text>
<text><tspan x="1017" y="434">Google</tspan><tspan x="1017" y="441.5">[1998]</tspan></text>
<text><tspan x="1150" y="419">MAGA</tspan><tspan x="1131" y="429">CCP Weird</tspan><tspan x="1131" y="437">Architecture</tspan></text>
<text><tspan x="1196" y="415">MAGA</tspan><tspan x="1196" y="423">Federal</tspan><tspan x="1196" y="430.5">Buildings</tspan><tspan x="1196" y="438">[2020]</tspan></text>
</g>
</svg>
